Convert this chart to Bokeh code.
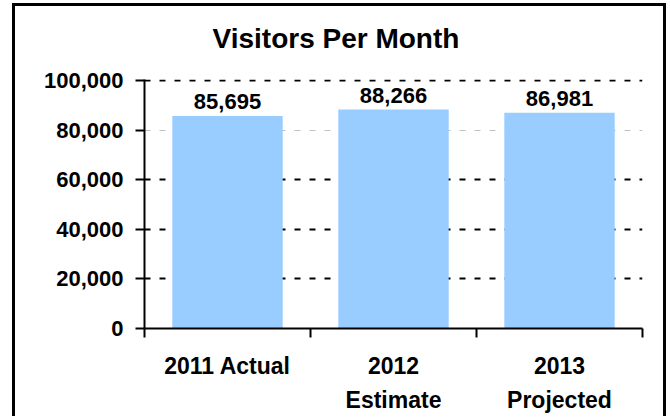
from bokeh.plotting import figure
from bokeh.models import Range1d, FixedTicker, NumeralTickFormatter, Grid, ColumnDataSource, Title
from bokeh.core.properties import value
from bokeh.embed import file_html
from bokeh.resources import INLINE

categories = ["2011 Actual", "2012\nEstimate", "2013\nProjected"]
visitors = [85695, 88266, 86981]
value_labels = ["85,695", "88,266", "86,981"]
y_ticks = [0, 20000, 40000, 60000, 80000, 100000]
title_text = "Visitors Per Month"

FONT = "Liberation Sans"
positions = [i + 0.5 for i in range(len(categories))]
src = ColumnDataSource(dict(x=positions, top=visitors, label=value_labels))

p = figure(width=648, height=410, output_backend="svg", toolbar_location=None,
           x_range=Range1d(0, len(categories)), y_range=Range1d(0, 100400),
           min_border_left=129, min_border_right=27, min_border_top=73, min_border_bottom=91)
p.styles = {"box-sizing": "content-box",
            "border-left": "3px solid #000", "border-top": "3px solid #000",
            "border-right": "3px solid #000",
            "margin-left": "12px", "margin-top": "3px"}
p.outline_line_color = None
p.background_fill_color = "white"
p.border_fill_color = "white"

p.title.text = title_text
p.title.text_font = FONT
p.title.text_font_size = "28px"
p.title.text_font_style = "bold"
p.title.align = "left"
p.title.offset = 68
p.title.standoff = 10
p.title.text_color = "black"

# empty spacer panel between the title and the plot area
spacer = Title(text=" ", text_font_size="1px", standoff=18, text_color="white")
p.add_layout(spacer, "above")

p.vbar(x="x", top="top", width=0.665, source=src, fill_color="#99ccff", line_color=None)
p.text(x="x", y="top", text="label", source=src, text_align="center",
       text_baseline="bottom", y_offset=-7, text_font=value(FONT),
       text_font_size="22px", text_font_style="bold", text_color="black")

# x axis
xa = p.xaxis[0]
xa.ticker = FixedTicker(ticks=positions, minor_ticks=list(range(len(categories) + 1)))
xa.major_label_overrides = {pos: c for pos, c in zip(positions, categories)}
xa.major_tick_out = 0
xa.major_tick_in = 0
xa.minor_tick_out = 9
xa.minor_tick_in = 0
xa.minor_tick_line_width = 2
xa.minor_tick_line_color = "black"
xa.axis_line_width = 2
xa.axis_line_color = "black"
xa.major_label_text_font = FONT
xa.major_label_text_font_size = "23px"
xa.major_label_text_font_style = "bold"
xa.major_label_text_color = "black"
xa.major_label_standoff = 15
xa.major_label_text_line_height = 1.32

# y axis
ya = p.yaxis[0]
ya.ticker = FixedTicker(ticks=y_ticks, minor_ticks=[])
ya.formatter = NumeralTickFormatter(format="0,0")
ya.major_tick_out = 9
ya.major_tick_in = 0
ya.major_tick_line_width = 2
ya.major_tick_line_color = "black"
ya.axis_line_width = 2
ya.axis_line_color = "black"
ya.major_label_text_font = FONT
ya.major_label_text_font_size = "22px"
ya.major_label_text_font_style = "bold"
ya.major_label_text_color = "black"
ya.major_label_standoff = 12

p.xgrid.visible = False
p.ygrid.visible = False
g1 = Grid(dimension=1, ticker=FixedTicker(ticks=[20000, 40000, 60000, 100000]),
          grid_line_color="black", grid_line_width=2, grid_line_dash="6 9")
g2 = Grid(dimension=1, ticker=FixedTicker(ticks=[80000]),
          grid_line_color="#c0c0c0", grid_line_width=1, grid_line_dash="6 9")
p.add_layout(g1)
p.add_layout(g2)

open("out.html", "w").write(file_html(p, INLINE))
